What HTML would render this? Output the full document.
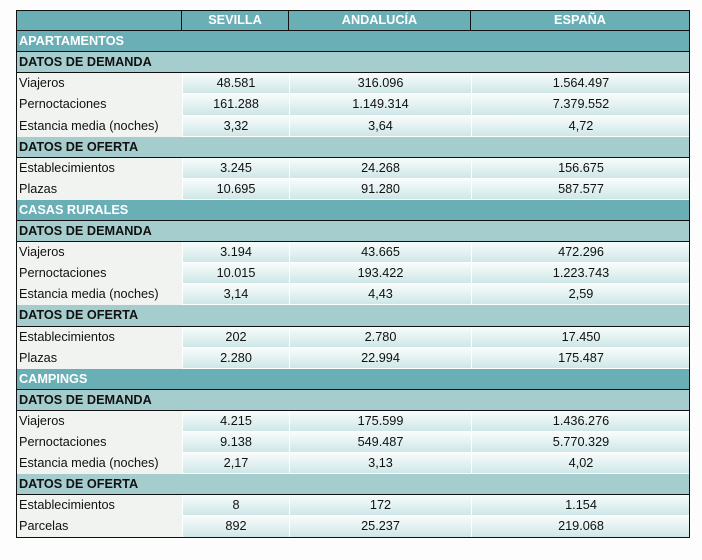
<!DOCTYPE html>
<html><head><meta charset="utf-8"><style>
body{margin:0;width:702px;height:560px;background:#fcfdfc;font-family:"Liberation Sans",sans-serif;position:relative;overflow:hidden}
.c{position:absolute;box-sizing:border-box;font-size:12.7px;line-height:21px;color:#111;white-space:nowrap}
.hd{background:#6aafb6;color:#fff;font-weight:bold;text-align:center;border-right:1px solid #111}
.sec{background:#6aafb6;color:#fff;font-weight:bold;padding-left:3px;border-bottom:1px solid #111}
.sub{background:#a6cdcd;color:#111;font-weight:bold;padding-left:3px;border-bottom:1px solid #111}
.lab{background:#f1f3f1;padding-left:3px}
.val{background:linear-gradient(#f8fcfc,#cfe7e7);text-align:center;border-left:1px solid #fff;border-bottom:1px solid #fff}
</style></head><body>
<div id="t" style="position:absolute;left:16px;top:10px;width:674px;height:528px;border:1px solid #111;box-sizing:border-box"></div>
<script>
const cols=["SEVILLA","ANDALUCÍA","ESPAÑA"];
const xs=[16,182,289,471,690];
const rows=[
["sec","APARTAMENTOS"],["sub","DATOS DE DEMANDA"],
["d","Viajeros","48.581","316.096","1.564.497"],
["d","Pernoctaciones","161.288","1.149.314","7.379.552"],
["d","Estancia media (noches)","3,32","3,64","4,72"],
["sub","DATOS DE OFERTA"],
["d","Establecimientos","3.245","24.268","156.675"],
["d","Plazas","10.695","91.280","587.577"],
["sec","CASAS RURALES"],["sub","DATOS DE DEMANDA"],
["d","Viajeros","3.194","43.665","472.296"],
["d","Pernoctaciones","10.015","193.422","1.223.743"],
["d","Estancia media (noches)","3,14","4,43","2,59"],
["sub","DATOS DE OFERTA"],
["d","Establecimientos","202","2.780","17.450"],
["d","Plazas","2.280","22.994","175.487"],
["sec","CAMPINGS"],["sub","DATOS DE DEMANDA"],
["d","Viajeros","4.215","175.599","1.436.276"],
["d","Pernoctaciones","9.138","549.487","5.770.329"],
["d","Estancia media (noches)","2,17","3,13","4,02"],
["sub","DATOS DE OFERTA"],
["d","Establecimientos","8","172","1.154"],
["d","Parcelas","892","25.237","219.068"]];
const H=21.1,T=10;
function mk(cls,x,y,w,h,txt,name){const e=document.createElement('div');e.className='c '+cls;e.style.left=x+'px';e.style.top=y+'px';e.style.width=w+'px';e.style.height=h+'px';e.textContent=txt;


document.body.appendChild(e);return e;}
let e=mk('hd',xs[0],T,xs[1]-xs[0],H,'','header-blank');e.style.borderBottom='1px solid #111';
for(let i=0;i<3;i++){e=mk('hd',xs[i+1],T,xs[i+2]-xs[i+1],H,cols[i],'column-header');e.style.borderBottom='1px solid #111';}
rows.forEach((r,i)=>{const y=Math.round(T+H*(i+1)),h=Math.round(T+H*(i+2))-y;
if(r[0]!=='d'){mk(r[0],xs[0],y,xs[4]-xs[0],h,r[1],r[0]==='sec'?'section-row':'subsection-row');}
else{mk('lab',xs[0],y,xs[1]-xs[0],h,r[1],'row-label');
for(let j=0;j<3;j++)mk('val',xs[j+1],y,xs[j+2]-xs[j+1],h,r[j+2],'value-cell');}});
document.body.appendChild(document.getElementById('t'));
</script>
</body></html>
